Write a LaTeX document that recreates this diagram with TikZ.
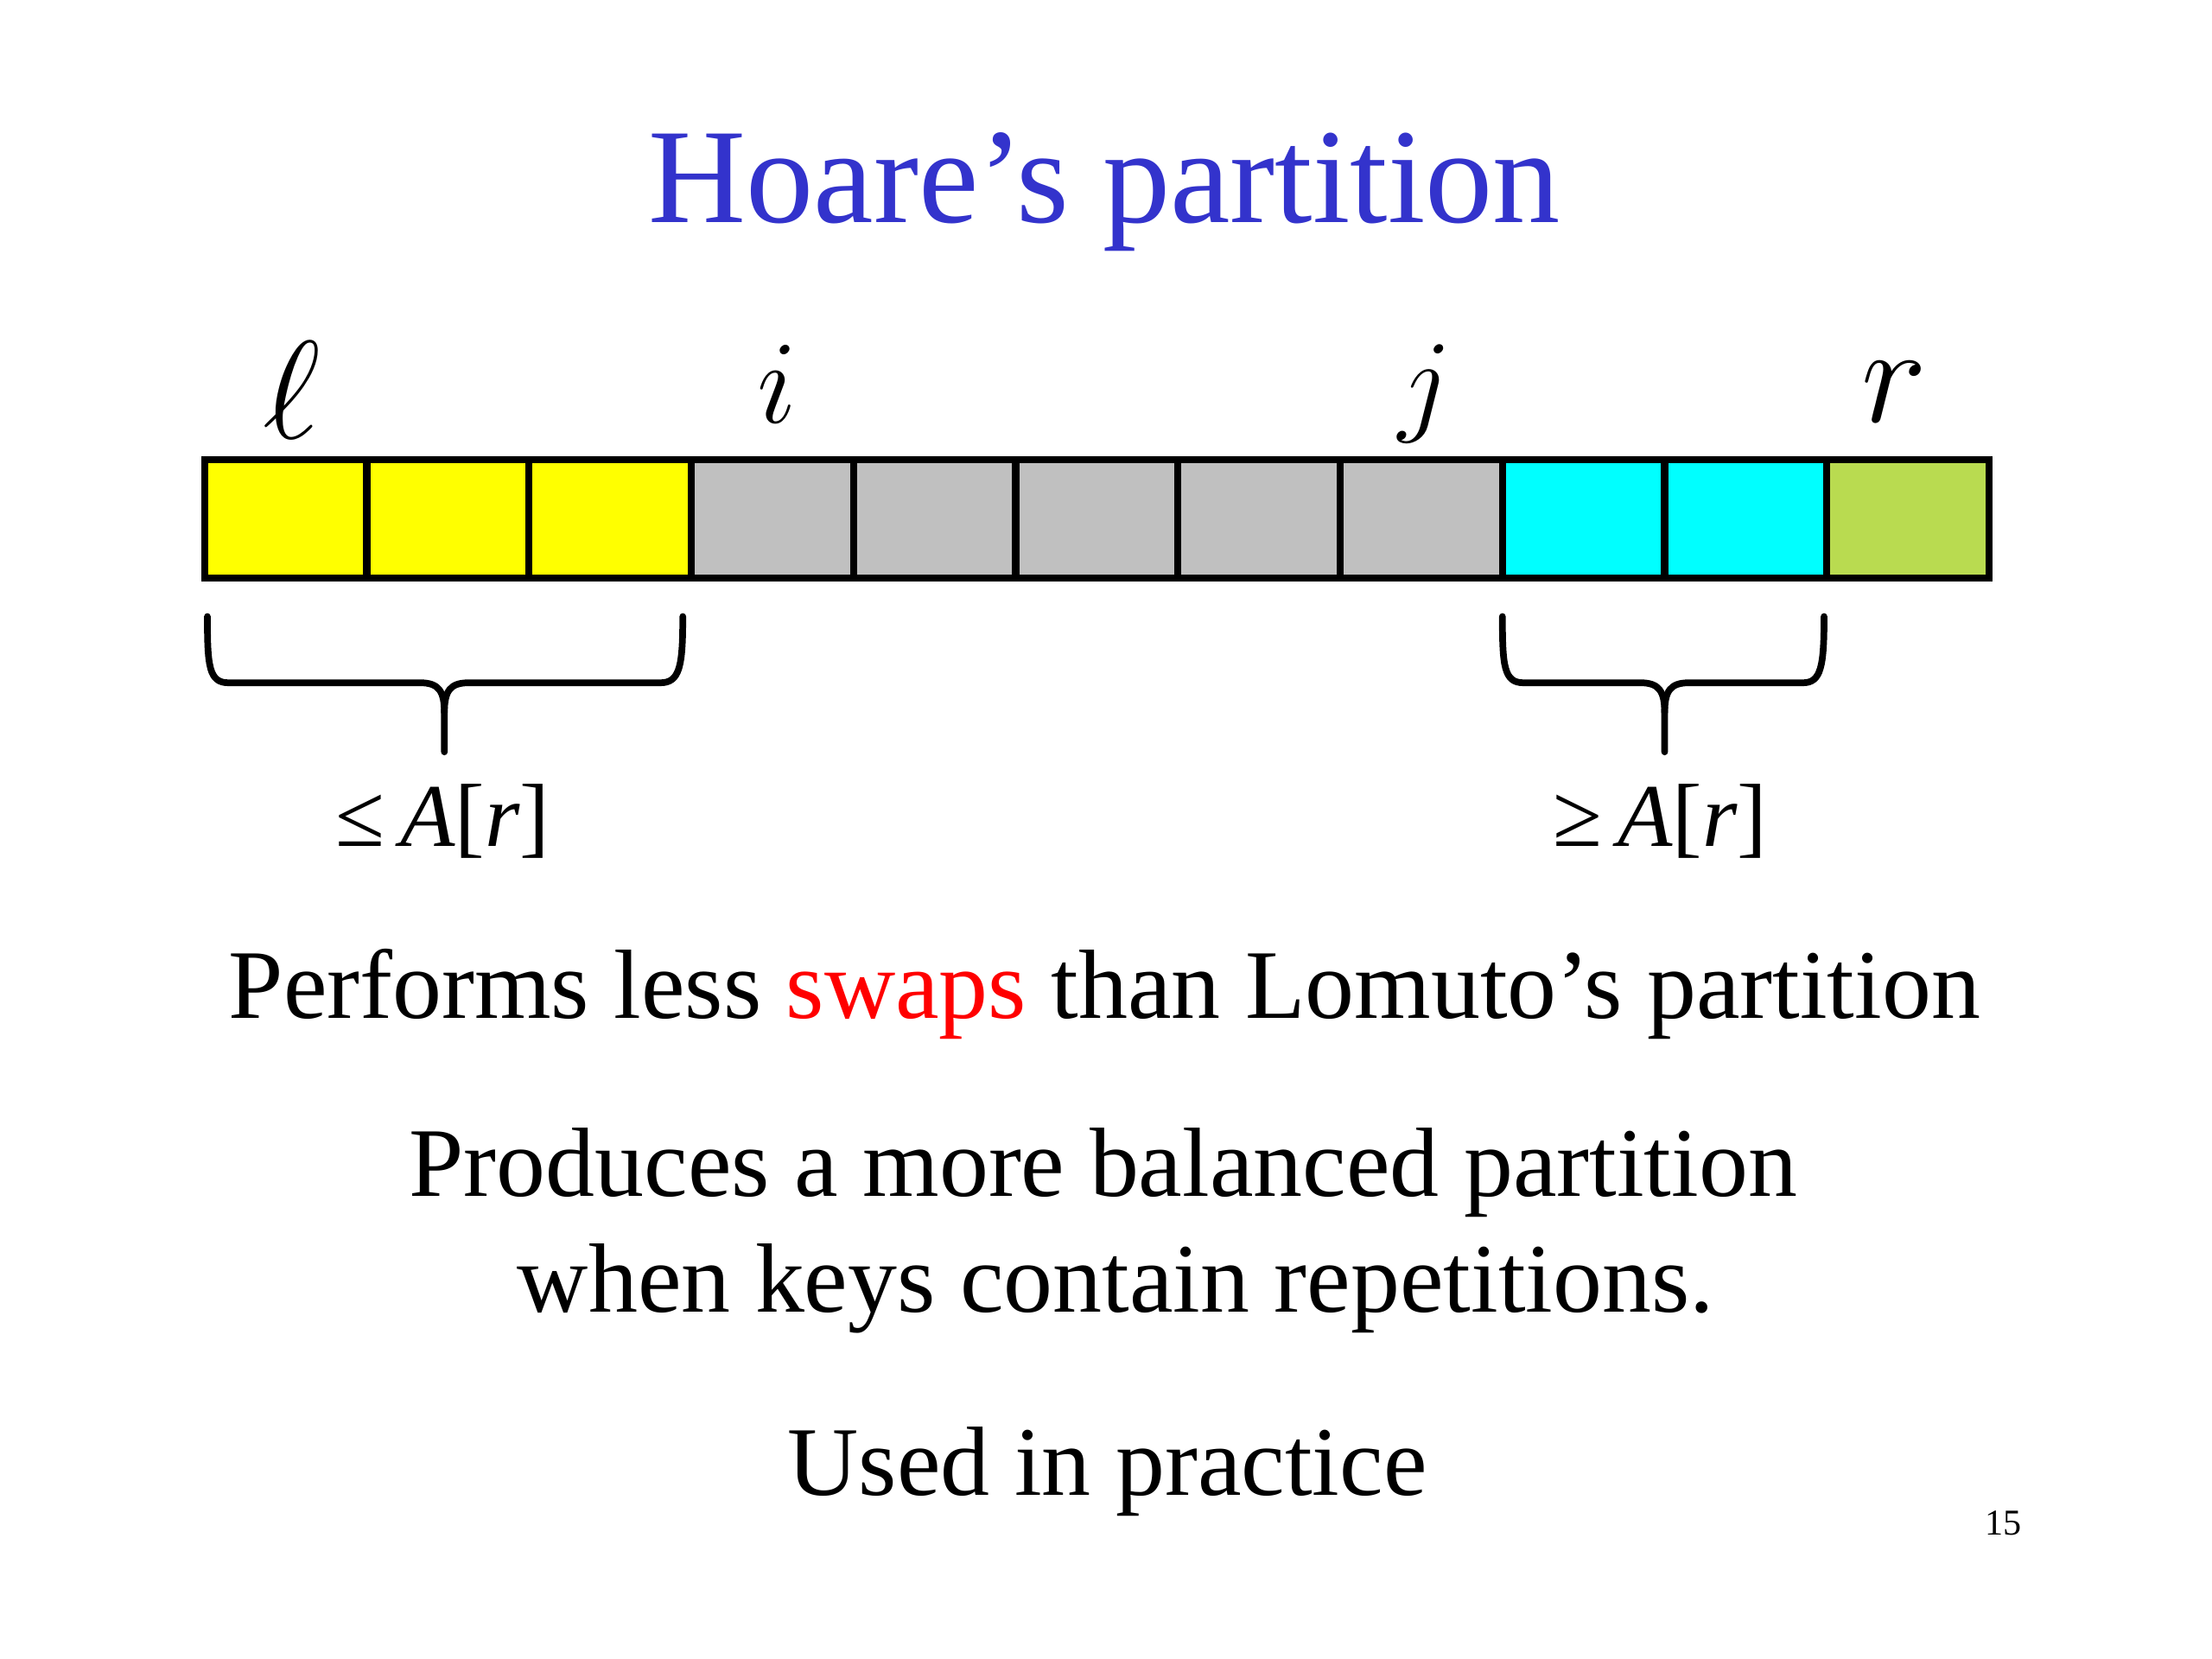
\RequirePackage{fix-cm}
\documentclass[tikz,border=0pt]{standalone}
\usepackage{fontspec}
\setmainfont{Liberation Serif}
\definecolor{titleblue}{RGB}{51,51,204}
\definecolor{cellyellow}{RGB}{255,255,0}
\definecolor{cellgray}{RGB}{192,192,192}
\definecolor{cellcyan}{RGB}{0,255,255}
\definecolor{cellgreen}{RGB}{185,219,80}
\tikzset{
  titletext/.style={anchor=base, text=titleblue, font=\fontsize{44.5}{48}\selectfont, inner sep=0pt},
  bodytext/.style={anchor=base, font=\fontsize{32.4}{36}\selectfont, inner sep=0pt},
  idxlabel/.style={anchor=base, inner sep=0pt},
  bracelabel/.style={anchor=base, font=\fontsize{29.5}{32}\selectfont, inner sep=0pt},
  cellbox/.style={draw=black, line width=2.3pt, minimum width=53.42pt, minimum height=39.02pt, inner sep=0pt, outer sep=0pt},
  bracepath/.style={draw=black, line width=2.2pt, line cap=round, line join=round},
}
\begin{document}
\begin{tikzpicture}[x=0.016327cm,y=-0.016327cm]
\useasboundingbox (0,0) rectangle (1568,1176);
\fill[white] (0,0) rectangle (1568,1176);
\node[titletext] (title) at (783,158) {Hoare’s partition};
% cells
\foreach \i/\c in {1/cellyellow,2/cellyellow,3/cellyellow,4/cellgray,5/cellgray,6/cellgray,7/cellgray,8/cellgray,9/cellcyan,10/cellcyan,11/cellgreen}{
  \node[cellbox, fill=\c] (c\i) at ({202.5+115*(\i-1)},368) {};
}
\draw[line width=2.3pt] (c1.north west) rectangle (c11.south east);
% index labels
\node[idxlabel, font=\fontsize{46}{50}\selectfont] (lbl) at (207,311) {$\ell$};
\node[idxlabel, font=\fontsize{39}{42}\selectfont] (ilbl) at (551,300) {$i$};
\node[idxlabel, font=\fontsize{38}{42}\selectfont] (jlbl) at (1010,298) {$j$};
\node[idxlabel, font=\fontsize{46}{50}\selectfont] (rlbl) at (1343,299) {$r$};
% braces
\draw[bracepath] (147,437) .. controls (147,472) and (148,484) .. (162,484) -- (298,484)
  .. controls (311,484) and (315,490) .. (315,505) -- (315,533);
\draw[bracepath] (315,505) .. controls (315,490) and (319,484) .. (332,484) -- (468,484)
  .. controls (482,484) and (484,472) .. (484,437);
\draw[bracepath] (1065,437) .. controls (1065,472) and (1066,484) .. (1080,484) -- (1163,484)
  .. controls (1176,484) and (1180,490) .. (1180,505) -- (1180,533);
\draw[bracepath] (1180,505) .. controls (1180,490) and (1184,484) .. (1197,484) -- (1278,484)
  .. controls (1291,484) and (1293,472) .. (1293,437);
\node[bracelabel] (le) at (314,600) {≤\,\textit{A}[\textit{r}]};
\node[bracelabel] (ge) at (1177,600) {≥\,\textit{A}[\textit{r}]};
% text
\node[bodytext] (t1) at (783,722) {Performs less \textcolor{red}{swaps} than Lomuto’s partition};
\node[bodytext] (t2) at (782,848) {Produces a more balanced partition};
\node[bodytext] (t3) at (791,930) {when keys contain repetitions.};
\node[bodytext] (t4) at (785,1060) {Used in practice};
\node[anchor=base, font=\fontsize{12}{14}\selectfont, inner sep=0pt] (pg) at (1420,1088) {15};
\end{tikzpicture}
\end{document}
